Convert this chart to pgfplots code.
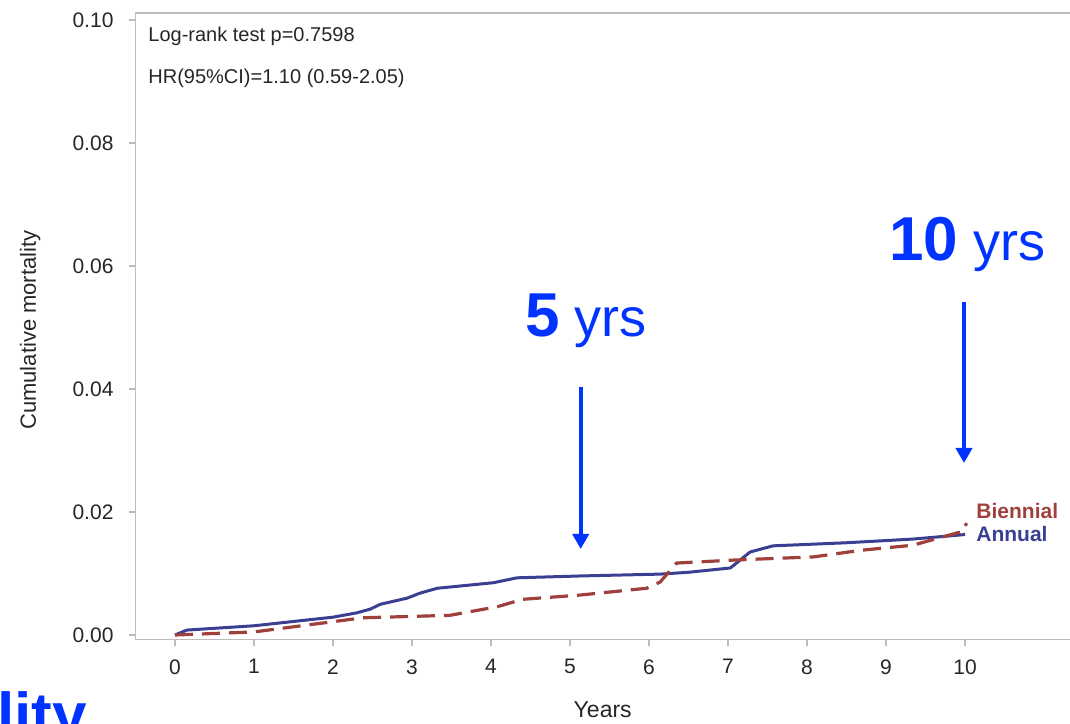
\documentclass[border=0pt]{standalone}
\usepackage{fontspec}
\setmainfont{Liberation Sans}
\usepackage{pgfplots}
\pgfplotsset{compat=1.18}
\usetikzlibrary{arrows.meta}
\definecolor{annual}{HTML}{3B3F91}
\definecolor{biennial}{HTML}{A0403C}
\definecolor{annblue}{HTML}{0033FF}
\definecolor{axgray}{HTML}{BDBDBD}
\definecolor{ticktext}{HTML}{262626}
\begin{document}
\begin{tikzpicture}
\begin{axis}[
  at={(67.75pt,41.85pt)}, anchor=south west,
  scale only axis, width=470.05pt, height=313pt,
  xmin=-0.5, xmax=11.4, ymin=-0.0007, ymax=0.1011,
  axis line style={axgray, line width=0.8pt},
  tick align=outside, xtick pos=left, ytick pos=left,
  major tick length=3.5pt,
  major tick style={axgray, line width=0.8pt},
  xtick={0,1,2,3,4,5,6,7,8,9,10},
  ytick={0,0.02,0.04,0.06,0.08,0.1},
  /pgf/number format/assume math mode=true,
  yticklabel style={/pgf/number format/.cd, fixed, fixed zerofill, precision=2, /tikz/.cd, font=\fontsize{10.5}{12}\selectfont, text=ticktext, xshift=-4pt},
  xticklabel style={font=\fontsize{10.5}{12}\selectfont, text=ticktext, yshift=-3pt},
  scaled y ticks=false,
  xlabel={Years}, ylabel={Cumulative mortality},
  every axis x label/.style={at={(axis description cs:0.497,-0.113)}, anchor=center, font=\fontsize{11.5}{13}\selectfont, text=ticktext},
  every axis y label/.style={at={(axis description cs:-0.112,0.494)}, rotate=90, anchor=center, font=\fontsize{11}{12}\selectfont, text=ticktext},
  clip=false,
]
\addplot[annual, line width=1.5pt] coordinates {
(0,0) (0.15,0.0008) (1,0.0015) (2,0.0029) (2.3,0.0036) (2.47,0.0042) (2.6,0.0050)
(2.94,0.0060) (3.1,0.0068) (3.32,0.0076) (4.03,0.0085) (4.33,0.0093) (5.13,0.0096)
(6.14,0.0099) (6.5,0.0102) (7.03,0.0109) (7.28,0.0135) (7.57,0.0145) (8.5,0.0150)
(9.34,0.0156) (9.97,0.0163) (10.0,0.0164)
};
\addplot[biennial, line width=1.6pt, dash pattern=on 9pt off 4.5pt] coordinates {
(0,0) (1,0.0005) (1.96,0.0021) (2.38,0.0028) (3.48,0.0032) (4.08,0.0046) (4.4,0.0058)
(5.13,0.0065) (5.97,0.0076) (6.14,0.0086) (6.35,0.0117) (7.1,0.0122) (8.08,0.0127)
(8.7,0.0138) (9.34,0.0146) (9.9,0.0166) (9.97,0.0168) (10.02,0.0182)
};
\end{axis}
% in-plot statistics
\node[anchor=base west, inner sep=0pt, text=ticktext, font=\fontsize{10}{12}\selectfont] at (74pt,340.5pt) {Log-rank test p=0.7598};
\node[anchor=base west, inner sep=0pt, text=ticktext, font=\fontsize{10}{12}\selectfont] at (74pt,319.75pt) {HR(95\%CI)=1.10 (0.59-2.05)};
% curve labels
\node[anchor=base west, inner sep=0pt, text=biennial, font=\bfseries\fontsize{10.5}{12}\selectfont] at (488pt,102.5pt) {Biennial};
\node[anchor=base west, inner sep=0pt, text=annual, font=\bfseries\fontsize{10.5}{12}\selectfont] at (488pt,91pt) {Annual};
% annotations
\draw[annblue, line width=2pt, -{Triangle[width=8pt,length=7.5pt]}] (290.35pt,168pt) -- (290.35pt,87pt);
\draw[annblue, line width=2pt, -{Triangle[width=8pt,length=7.5pt]}] (482pt,210.5pt) -- (482pt,130pt);
\node[anchor=base west, inner sep=0pt, text=annblue] at (262.5pt,193pt) {{\fontsize{31}{31}\selectfont\bfseries 5}{\fontsize{27}{27}\selectfont{} yrs}};
\node[anchor=base west, inner sep=0pt, text=annblue] at (444.5pt,231pt) {{\fontsize{31}{31}\selectfont\bfseries 10}{\fontsize{27}{27}\selectfont{} yrs}};
\node[anchor=base west, inner sep=0pt, text=annblue, font=\bfseries\fontsize{31}{31}\selectfont] at (-1.5pt,-6.5pt) {lity};
\pgfresetboundingbox
\useasboundingbox (0pt,0pt) rectangle (535pt,361.5pt);
\end{tikzpicture}
\end{document}
